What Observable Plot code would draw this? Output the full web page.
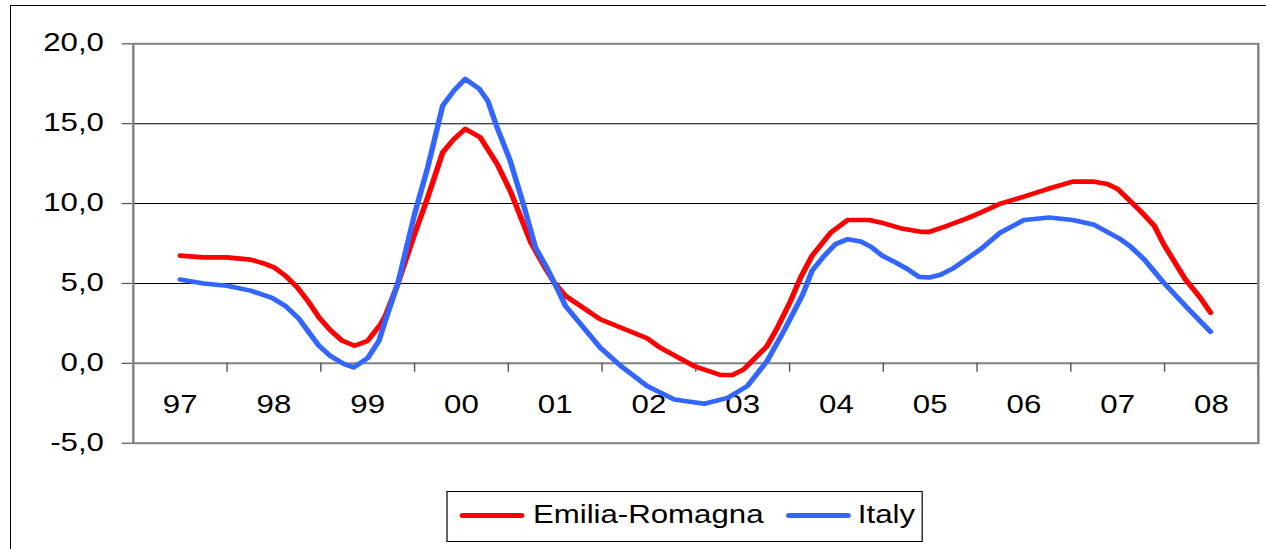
<!DOCTYPE html>
<html>
<head>
<meta charset="utf-8">
<script src="https://cdn.jsdelivr.net/npm/d3@7"></script>
<script src="https://cdn.jsdelivr.net/npm/@observablehq/plot@0.6"></script>
<style>
html,body{margin:0;padding:0;overflow:hidden;background:#fff;width:1266px;height:549px;}
#outer{position:absolute;left:10px;top:5px;width:1300px;height:600px;border:1px solid #000;box-sizing:border-box;}
#wrap{position:absolute;left:0;top:0;width:1055px;height:549px;transform:scaleX(1.2);transform-origin:0 0;font-family:"Liberation Sans",Arial,sans-serif;}
#chart{position:absolute;left:0;top:0;}
#chart svg{overflow:visible;}
#legend{position:absolute;left:372.2px;top:490.7px;width:396.7px;height:51.3px;border:1px solid #000;box-sizing:border-box;background:#fff;}
.sw{position:absolute;top:21.8px;height:5px;width:54px;border-radius:2.5px;}
.lt{position:absolute;top:9.6px;font-size:26px;line-height:26px;white-space:nowrap;color:#000;}
</style>
</head>
<body>
<div id="outer"></div>
<div id="wrap">
  <div id="chart"></div>
  <div id="legend">
    <div class="sw" id="sw0" style="left:9.5px"></div>
    <div class="lt" id="lt0" style="left:70.9px"></div>
    <div class="sw" id="sw1" style="left:282px"></div>
    <div class="lt" id="lt1" style="left:341.7px"></div>
  </div>
</div>
<script>
// ---- data ----
const seriesNames = ["Emilia-Romagna", "Italy"];
const seriesColors = ["#ff0000", "#3366ff"];
const yearLabels = ["97","98","99","00","01","02","03","04","05","06","07","08"];
const firstYear = 1997;
const yTicks = [-5, 0, 5, 10, 15, 20];
const gridValues = [5, 10, 15];

const erTime = [1997.50,1997.75,1998.00,1998.25,1998.39,1998.50,1998.62,1998.75,1998.86,1998.98,1999.10,1999.23,1999.36,1999.50,1999.64,1999.69,1999.82,2000.00,2000.14,2000.30,2000.42,2000.54,2000.70,2000.88,2001.02,2001.24,2001.38,2001.49,2001.61,2001.98,2002.48,2002.62,2002.98,2003.26,2003.39,2003.51,2003.76,2003.87,2004.01,2004.12,2004.24,2004.44,2004.62,2004.85,2004.97,2005.18,2005.40,2005.49,2005.68,2005.90,2006.04,2006.25,2006.50,2006.75,2007.02,2007.25,2007.39,2007.50,2007.74,2007.89,2007.99,2008.22,2008.38,2008.49];
const erValues = [6.74,6.63,6.63,6.49,6.26,6.01,5.49,4.75,3.92,2.87,2.08,1.41,1.10,1.41,2.46,3.0,4.95,8.09,10.38,13.2,14.04,14.67,14.14,12.48,10.8,7.56,6.1,5.05,4.22,2.76,1.57,0.98,-0.17,-0.73,-0.73,-0.38,1.08,2.23,3.9,5.4,6.73,8.19,8.97,8.97,8.82,8.46,8.23,8.23,8.61,9.09,9.44,10.0,10.43,10.91,11.37,11.37,11.22,10.91,9.55,8.61,7.46,5.27,4.11,3.17];

const itTime = [1997.50,1997.75,1998.00,1998.25,1998.48,1998.62,1998.77,1998.86,1998.98,1999.10,1999.25,1999.35,1999.50,1999.62,1999.69,1999.82,2000.00,2000.14,2000.30,2000.42,2000.54,2000.69,2000.78,2000.88,2001.02,2001.16,2001.29,2001.41,2001.49,2001.61,2001.98,2002.20,2002.48,2002.77,2003.09,2003.34,2003.55,2003.76,2003.94,2004.14,2004.24,2004.37,2004.49,2004.62,2004.76,2004.87,2004.99,2005.10,2005.26,2005.38,2005.49,2005.61,2005.75,2005.90,2006.04,2006.25,2006.50,2006.77,2007.02,2007.25,2007.51,2007.64,2007.78,2007.99,2008.24,2008.49];
const itValues = [5.24,5.0,4.86,4.55,4.09,3.6,2.77,2.04,1.10,0.47,-0.05,-0.26,0.33,1.41,2.7,4.95,9.34,12.26,16.13,17.07,17.8,17.18,16.44,14.77,12.68,9.97,7.25,5.99,5.05,3.59,0.98,-0.17,-1.42,-2.26,-2.53,-2.16,-1.42,0.14,2.03,4.3,5.79,6.73,7.46,7.77,7.62,7.29,6.73,6.41,5.89,5.41,5.37,5.54,5.96,6.58,7.15,8.19,8.97,9.13,8.97,8.67,7.84,7.29,6.52,5.05,3.49,1.98];

// ---- tables built from the arrays ----
const er = erTime.map((t, i) => ({t, v: erValues[i]}));
const it = itTime.map((t, i) => ({t, v: itValues[i]}));
const labelPos = yearLabels.map((lab, i) => ({x: firstYear + i + 0.5, lab}));
const tickPos = yearLabels.map((lab, i) => firstYear + i + 1);
const lastYear = firstYear + yearLabels.length;

const chart = Plot.plot({
  width: 1055,
  height: 470,
  marginLeft: 110.6,
  marginRight: 6.9,
  marginTop: 43.3,
  marginBottom: 27.3,
  style: {fontFamily: "'Liberation Sans', Arial, sans-serif", fontSize: "26px", background: "transparent", overflow: "visible"},
  x: {domain: [firstYear, lastYear], axis: null},
  y: {domain: [yTicks[0], yTicks[yTicks.length - 1]], axis: null},
  marks: [
    Plot.ruleY(gridValues, {stroke: "#000", strokeWidth: 1}),
    Plot.ruleY([0], {stroke: "#808080", strokeWidth: 2}),
    Plot.ruleX(tickPos, {y1: 0, y2: -0.56, stroke: "#555", strokeWidth: 1.2}),
    Plot.ruleY(yTicks, {x1: firstYear - 0.118, x2: firstYear, stroke: "#555", strokeWidth: 1.2}),
    Plot.frame({stroke: "#808080", strokeWidth: 2}),
    Plot.text(labelPos, {x: "x", frameAnchor: "bottom", dy: -38.7, text: "lab", textAnchor: "middle", lineAnchor: "middle", fill: "#000"}),
    Plot.text(yTicks, {y: d => d, frameAnchor: "left", dx: -24.5, dy: -1, textAnchor: "end", lineAnchor: "middle", text: d => d.toFixed(1).replace(".", ","), fill: "#000"}),
    Plot.line(er, {x: "t", y: "v", stroke: seriesColors[0], strokeWidth: 4.6, strokeLinejoin: "round", strokeLinecap: "round"}),
    Plot.line(it, {x: "t", y: "v", stroke: seriesColors[1], strokeWidth: 4.6, strokeLinejoin: "round", strokeLinecap: "round"})
  ]
});
document.getElementById("chart").appendChild(chart);

seriesNames.forEach((name, i) => {
  document.getElementById("sw" + i).style.background = seriesColors[i];
  document.getElementById("lt" + i).textContent = name;
});
</script>
</body>
</html>
